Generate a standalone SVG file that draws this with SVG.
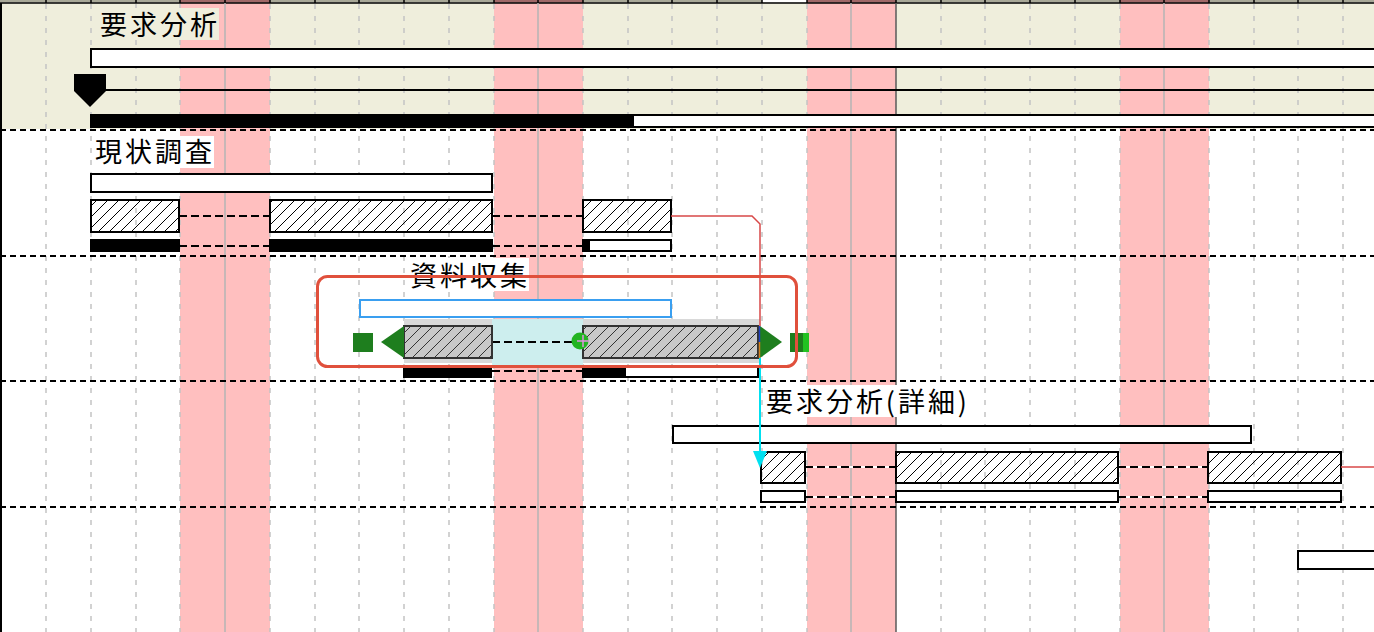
<svg xmlns="http://www.w3.org/2000/svg" width="1374" height="632" viewBox="0 0 1374 632">
<defs>
<pattern id="hatch" patternUnits="userSpaceOnUse" width="11" height="11">
<path d="M-1,12 L12,-1 M-2,2 L2,-2 M9,13 L13,9" stroke="#000" stroke-width="1"/>
</pattern>
<pattern id="hatchg" patternUnits="userSpaceOnUse" width="11" height="11">
<rect width="11" height="11" fill="#c8c8c8"/>
<path d="M-1,12 L12,-1 M-2,2 L2,-2 M9,13 L13,9" stroke="#333" stroke-width="1"/>
</pattern>
</defs>
<style>
.lbl{font-family:"Noto Sans CJK JP","Liberation Sans",sans-serif;font-size:27px;fill:#000}
.grid{stroke:#c4c4c4;stroke-width:1.5;stroke-dasharray:5 7}
.week{stroke:#b4b4b4;stroke-width:1.5}
.rowsep{stroke:#000;stroke-width:2;stroke-dasharray:6 4}
.bar{fill:#fff;stroke:#000;stroke-width:2}
.hb{fill:url(#hatch);stroke:#000;stroke-width:2}
.hbg{fill:url(#hatchg);stroke:#333;stroke-width:2}
.prog{fill:#000}
.link{stroke:#000;stroke-width:2;stroke-dasharray:8 4;fill:none}
</style>
<rect width="1374" height="632" fill="#fff"/>
<g id="background">
<rect x="0" y="3" width="1374" height="126" fill="#efeedc"/>
<g fill="#ffbfbf">
<rect x="180" y="0" width="90" height="632"/>
<rect x="494" y="0" width="89" height="632"/>
<rect x="807" y="0" width="89" height="632"/>
<rect x="1120" y="0" width="89" height="632"/>
</g>
<rect x="0" y="0" width="1374" height="2.5" fill="#a8a898"/>
<g fill="#a06868">
<rect x="180" y="0" width="90" height="2.5"/>
<rect x="494" y="0" width="89" height="2.5"/>
<rect x="807" y="0" width="89" height="2.5"/>
<rect x="1120" y="0" width="89" height="2.5"/>
</g>
<rect x="762" y="0" width="45" height="2.5" fill="#fff"/>
<line x1="0" y1="3" x2="1374" y2="3" stroke="#000" stroke-width="1.5"/>
<g class="grid">
<line x1="46" y1="4" x2="46" y2="632"/><line x1="91" y1="4" x2="91" y2="632"/><line x1="136" y1="4" x2="136" y2="632"/><line x1="180" y1="4" x2="180" y2="632"/>
<line x1="270" y1="4" x2="270" y2="632"/><line x1="315" y1="4" x2="315" y2="632"/><line x1="359" y1="4" x2="359" y2="632"/><line x1="404" y1="4" x2="404" y2="632"/>
<line x1="449" y1="4" x2="449" y2="632"/><line x1="494" y1="4" x2="494" y2="632"/><line x1="583" y1="4" x2="583" y2="632"/><line x1="628" y1="4" x2="628" y2="632"/>
<line x1="672" y1="4" x2="672" y2="632"/><line x1="717" y1="4" x2="717" y2="632"/><line x1="762" y1="4" x2="762" y2="632"/><line x1="807" y1="4" x2="807" y2="632"/>
<line x1="941" y1="4" x2="941" y2="632"/><line x1="985" y1="4" x2="985" y2="632"/><line x1="1030" y1="4" x2="1030" y2="632"/><line x1="1075" y1="4" x2="1075" y2="632"/>
<line x1="1120" y1="4" x2="1120" y2="632"/><line x1="1209" y1="4" x2="1209" y2="632"/><line x1="1254" y1="4" x2="1254" y2="632"/><line x1="1298" y1="4" x2="1298" y2="632"/><line x1="1343" y1="4" x2="1343" y2="632"/>
</g>
<g class="week">
<line x1="225" y1="3" x2="225" y2="632"/><line x1="538" y1="3" x2="538" y2="632"/><line x1="851" y1="3" x2="851" y2="632"/><line x1="1164" y1="3" x2="1164" y2="632"/>
</g>
<line x1="896" y1="3" x2="896" y2="632" stroke="#5a5a5a" stroke-width="1.5"/>
<g stroke="#000" stroke-width="1.5">
<line x1="46" y1="0" x2="46" y2="3"/><line x1="91" y1="0" x2="91" y2="3"/><line x1="136" y1="0" x2="136" y2="3"/><line x1="180" y1="0" x2="180" y2="3"/><line x1="225" y1="0" x2="225" y2="3"/><line x1="270" y1="0" x2="270" y2="3"/><line x1="315" y1="0" x2="315" y2="3"/><line x1="359" y1="0" x2="359" y2="3"/><line x1="404" y1="0" x2="404" y2="3"/><line x1="449" y1="0" x2="449" y2="3"/><line x1="494" y1="0" x2="494" y2="3"/><line x1="538" y1="0" x2="538" y2="3"/><line x1="583" y1="0" x2="583" y2="3"/><line x1="628" y1="0" x2="628" y2="3"/><line x1="672" y1="0" x2="672" y2="3"/><line x1="717" y1="0" x2="717" y2="3"/><line x1="762" y1="0" x2="762" y2="3"/><line x1="807" y1="0" x2="807" y2="3"/><line x1="851" y1="0" x2="851" y2="3"/><line x1="896" y1="0" x2="896" y2="3"/><line x1="941" y1="0" x2="941" y2="3"/><line x1="985" y1="0" x2="985" y2="3"/><line x1="1030" y1="0" x2="1030" y2="3"/><line x1="1075" y1="0" x2="1075" y2="3"/><line x1="1120" y1="0" x2="1120" y2="3"/><line x1="1164" y1="0" x2="1164" y2="3"/><line x1="1209" y1="0" x2="1209" y2="3"/><line x1="1254" y1="0" x2="1254" y2="3"/><line x1="1298" y1="0" x2="1298" y2="3"/><line x1="1343" y1="0" x2="1343" y2="3"/>
</g>
<g class="rowsep">
<line x1="0" y1="130" x2="1374" y2="130"/><line x1="0" y1="256" x2="1374" y2="256"/><line x1="0" y1="381" x2="1374" y2="381"/><line x1="0" y1="507" x2="1374" y2="507"/>
</g>
<line x1="1" y1="3" x2="1" y2="632" stroke="#000" stroke-width="2"/>
</g>
<g id="task-youkyuu-bunseki">
<rect x="98" y="8" width="121" height="32" fill="#efeedc"/>
<text class="lbl" x="100" y="35" textLength="117" lengthAdjust="spacing">要求分析</text>
<rect class="bar" x="91" y="49" width="1290" height="18"/>
<line x1="104" y1="90" x2="1374" y2="90" stroke="#000" stroke-width="2"/>
<polygon points="74,74 106,74 106,91 90,107 74,91" fill="#000"/>
<rect class="bar" x="91" y="115" width="1290" height="12"/>
<rect class="prog" x="91" y="115" width="543" height="12"/>
</g>
<g id="task-genjou-chousa">
<rect x="92" y="136" width="122" height="32" fill="#fff"/>
<text class="lbl" x="95" y="162" textLength="117" lengthAdjust="spacing">現状調査</text>
<rect class="bar" x="91" y="174" width="401" height="18"/>
<line class="link" x1="179" y1="216" x2="270" y2="216"/>
<line class="link" x1="492" y1="216" x2="583" y2="216"/>
<line class="link" x1="179" y1="246" x2="270" y2="246"/>
<line class="link" x1="492" y1="246" x2="583" y2="246"/>
<rect class="hb" x="91" y="200" width="88" height="32"/>
<rect class="hb" x="270" y="200" width="222" height="32"/>
<rect class="hb" x="583" y="200" width="88" height="32"/>
<rect class="prog" x="90" y="239" width="90" height="13"/>
<rect class="prog" x="269" y="239" width="224" height="13"/>
<rect class="bar" x="583" y="240" width="88" height="11"/>
<rect class="prog" x="583" y="239" width="7" height="13"/>
</g>
<g id="task-shiryou-shuushuu">
<rect x="407" y="258" width="122" height="33" fill="#fff"/>
<text class="lbl" x="410" y="286" textLength="117" lengthAdjust="spacing">資料収集</text>
<rect x="360" y="300" width="311" height="17" fill="#fff" stroke="#3a9ff0" stroke-width="2"/>
<rect x="404" y="319" width="356" height="44" fill="#d9d9d9"/>
<rect x="492" y="319" width="91" height="46" fill="#cdeeee"/>
<line class="link" x1="492" y1="342" x2="583" y2="342"/>
<rect class="hbg" x="404" y="326" width="88" height="32"/>
<rect class="hbg" x="583" y="326" width="175" height="32"/>
<circle cx="580" cy="341" r="8.5" fill="#22b422"/>
<path d="M583,335 V347 M577,341 H589" stroke="#e090e0" stroke-width="1.5"/>
<rect x="353" y="333" width="20" height="19" fill="#1e7e1e"/>
<polygon points="381,342 404,326 404,358" fill="#1e7e1e"/>
<polygon points="760,326 760,358 782,342" fill="#1e7e1e"/>
<rect x="790" y="333" width="19" height="19" fill="#1e7e1e"/>
<rect x="803" y="333" width="6" height="19" fill="#22c222"/>
<line class="link" x1="492" y1="371" x2="583" y2="371"/>
<rect class="prog" x="403" y="365" width="89" height="13"/>
<rect class="bar" x="583" y="366" width="175" height="11"/>
<rect class="prog" x="583" y="365" width="43" height="13"/>
</g>
<g id="task-youkyuu-shousai">
<rect x="763" y="385" width="208" height="32" fill="#fff"/>
<text class="lbl" x="766" y="412" textLength="201" lengthAdjust="spacing">要求分析(詳細)</text>
<rect class="bar" x="673" y="426" width="578" height="17"/>
<g stroke="#fff" stroke-width="2">
<line x1="805" y1="467" x2="896" y2="467"/><line x1="1118" y1="467" x2="1208" y2="467"/>
<line x1="805" y1="497" x2="896" y2="497"/><line x1="1118" y1="497" x2="1208" y2="497"/>
</g>
<line class="link" x1="805" y1="467" x2="896" y2="467"/>
<line class="link" x1="1118" y1="467" x2="1208" y2="467"/>
<line class="link" x1="805" y1="497" x2="896" y2="497"/>
<line class="link" x1="1118" y1="497" x2="1208" y2="497"/>
<rect class="hb" x="761" y="452" width="44" height="31"/>
<rect class="hb" x="896" y="452" width="222" height="31"/>
<rect class="hb" x="1208" y="452" width="133" height="31"/>
<rect class="bar" x="761" y="491" width="44" height="11"/>
<rect class="bar" x="896" y="491" width="222" height="11"/>
<rect class="bar" x="1208" y="491" width="133" height="11"/>
</g>
<g id="task-next">
<rect class="bar" x="1298" y="551" width="90" height="18"/>
</g>
<g id="connectors">
<path d="M671,216 H752 L760,224 V326" fill="none" stroke="#d84848" stroke-width="1.5"/>
<line x1="759.5" y1="326" x2="759.5" y2="342" stroke="#2040c0" stroke-width="1.5"/>
<line x1="759.5" y1="342" x2="759.5" y2="358" stroke="#d08020" stroke-width="1.5"/>
<line x1="760" y1="358" x2="760" y2="453" stroke="#00e0f0" stroke-width="2"/>
<polygon points="753,451 767,451 760,468" fill="#00e0f0"/>
<line x1="1341" y1="467" x2="1374" y2="467" stroke="#d84848" stroke-width="1.5"/>
</g>
<g id="selection">
<rect x="317.5" y="276.5" width="479" height="90" rx="10" fill="none" stroke="#e0503c" stroke-width="3"/>
</g>
</svg>
